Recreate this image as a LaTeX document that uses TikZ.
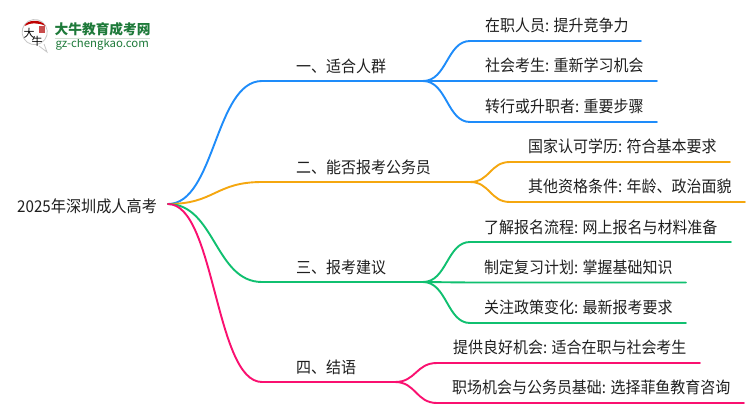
\documentclass[tikz,border=0pt]{standalone}
\usepackage{fontspec}
\setmainfont{Noto Sans CJK SC}
\newfontfamily\narrowcjk[FakeStretch=0.93]{Noto Sans CJK SC}
\begin{document}
\begin{tikzpicture}[x=1pt,y=-1pt,
  txt/.style={anchor=west,inner sep=0pt,font=\narrowcjk\fontsize{16.1}{16}\selectfont,text=black!88},
  roottxt/.style={txt,font=\narrowcjk\fontsize{16.3}{16}\selectfont},
  link/.style={line width=1.9pt,line cap=round},
  blueb/.style={link,draw=blue1},
  orangeb/.style={link,draw=orange1},
  greenb/.style={link,draw=green1},
  pinkb/.style={link,draw=pink1},
  logoa/.style={inner sep=0pt,font=\fontsize{13.7}{14}\selectfont\bfseries,text=logogreen},
  logob/.style={inner sep=0pt,font=\fontsize{11.4}{12}\selectfont,text=logogreen}]
\definecolor{blue1}{HTML}{1E8CFA}
\definecolor{orange1}{HTML}{F5A70F}
\definecolor{green1}{HTML}{10C070}
\definecolor{pink1}{HTML}{FA1070}
\definecolor{logogreen}{HTML}{1E7A3A}
\useasboundingbox (0,0) rectangle (750,410);
\fill[white] (0,0) rectangle (750,410);

% logo
\filldraw[draw=black!22,fill=white,line width=0.8pt] (41,43) arc[start angle=60,end angle=-300,radius=12.6] -- cycle;
\draw[draw=black!22,fill=white,line width=0.8pt] (39,46) -- (47,52) -- (44,44);
\fill[red!75!black] (24.5,26) .. controls (27,19.5) and (41,18.5) .. (45.5,26) .. controls (39,22.5) and (30,22.5) .. (24.5,26) -- cycle;
\fill[red!70!black,opacity=0.7] (39,26) rectangle (45,33);
\node[inner sep=0pt,font=\fontsize{11}{11}\selectfont] (logoda) at (29,33) {大};
\node[inner sep=0pt,font=\fontsize{11}{11}\selectfont] (logoniu) at (37,41) {牛};
\node[logoa,anchor=west] (logoname) at (54.5,29.5) {大牛教育成考网};
\node[logob,anchor=west] (logourl) at (55.5,44.5) {gz-chengkao.com};
\draw[green!30!black!18,line width=0.8pt] (54.5,38.5) -- (150,38.5);

% anchors
\coordinate (root) at (168,204);
\coordinate (b1s) at (262,81);  \coordinate (b1e) at (423,81);
\coordinate (b2s) at (262,182); \coordinate (b2e) at (470,182);
\coordinate (b3s) at (262,282); \coordinate (b3e) at (423,282);
\coordinate (b4s) at (262,382); \coordinate (b4e) at (395,382);

\coordinate (l1as) at (470,41);  \coordinate (l1ae) at (641,41);
\coordinate (l1bs) at (470,81);  \coordinate (l1be) at (657,81);
\coordinate (l1cs) at (470,122); \coordinate (l1ce) at (657,122);
\coordinate (l2as) at (510,162); \coordinate (l2ae) at (730,162);
\coordinate (l2bs) at (510,202); \coordinate (l2be) at (745,202);
\coordinate (l3as) at (470,242); \coordinate (l3ae) at (731,242);
\coordinate (l3bs) at (470,282.5); \coordinate (l3be) at (686,282.5);
\coordinate (l3cs) at (470,323); \coordinate (l3ce) at (686,323);
\coordinate (l4as) at (437,363); \coordinate (l4ae) at (700,363);
\coordinate (l4bs) at (437,403); \coordinate (l4be) at (744,403);

% blue
\draw[blueb] (root) .. controls (215,204) and (215,81) .. (b1s) -- (b1e);
\draw[blueb] (b1e) .. controls (447,81) and (447,41) .. (l1as) -- (l1ae);
\draw[blueb] (b1e) -- (l1bs) -- (l1be);
\draw[blueb] (b1e) .. controls (447,81) and (447,122) .. (l1cs) -- (l1ce);
% orange
\draw[orangeb] (root) .. controls (215,204) and (215,182) .. (b2s) -- (b2e);
\draw[orangeb] (b2e) .. controls (490,182) and (490,162) .. (l2as) -- (l2ae);
\draw[orangeb] (b2e) .. controls (490,182) and (490,202) .. (l2bs) -- (l2be);
% green
\draw[greenb] (root) .. controls (215,204) and (215,282) .. (b3s) -- (b3e);
\draw[greenb] (b3e) .. controls (447,282) and (447,242) .. (l3as) -- (l3ae);
\draw[greenb] (b3e) -- (l3bs) -- (l3be);
\draw[greenb] (b3e) .. controls (447,282) and (447,323) .. (l3cs) -- (l3ce);
% pink
\draw[pinkb] (root) .. controls (215,204) and (215,382) .. (b4s) -- (b4e);
\draw[pinkb] (b4e) .. controls (416,382) and (416,363) .. (l4as) -- (l4ae);
\draw[pinkb] (b4e) .. controls (416,382) and (416,403) .. (l4bs) -- (l4be);

% text
\node[roottxt] (troot) at (17,206) {2025年深圳成人高考};
\node[txt] (t1) at (296,66.5) {一、适合人群};
\node[txt] (t2) at (296,167) {二、能否报考公务员};
\node[txt] (t3) at (296,267) {三、报考建议};
\node[txt] (t4) at (296,367) {四、结语};
\node[txt] (t1a) at (485,25) {在职人员: 提升竞争力};
\node[txt] (t1b) at (485,65) {社会考生: 重新学习机会};
\node[txt] (t1c) at (485,106) {转行或升职者: 重要步骤};
\node[txt] (t2a) at (528,146.5) {国家认可学历: 符合基本要求};
\node[txt] (t2b) at (528,186.5) {其他资格条件: 年龄、政治面貌};
\node[txt] (t3a) at (484,227) {了解报名流程: 网上报名与材料准备};
\node[txt] (t3b) at (484,267) {制定复习计划: 掌握基础知识};
\node[txt] (t3c) at (484,307) {关注政策变化: 最新报考要求};
\node[txt] (t4a) at (453,347) {提供良好机会: 适合在职与社会考生};
\node[txt] (t4b) at (452,387.5) {职场机会与公务员基础: 选择菲鱼教育咨询};
\end{tikzpicture}
\end{document}
